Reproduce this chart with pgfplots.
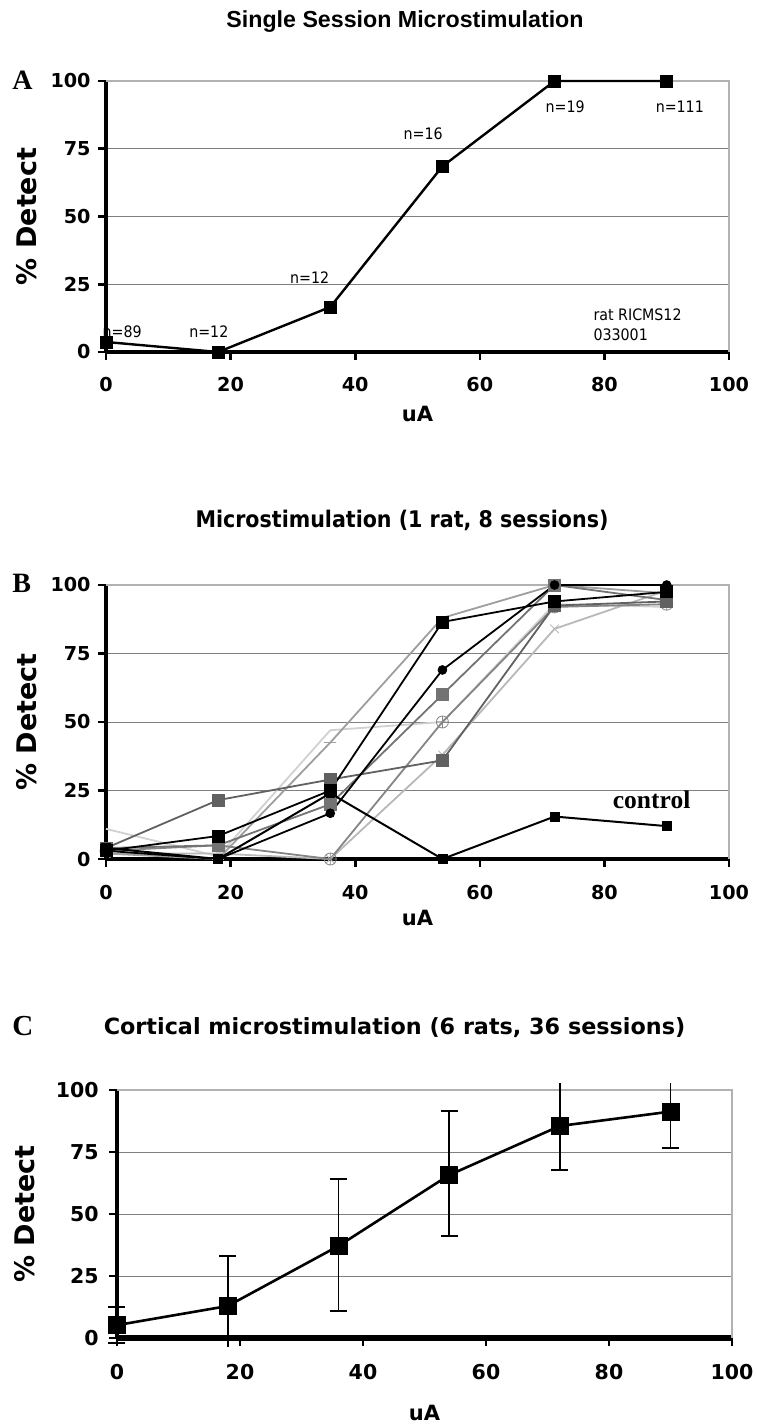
\documentclass[border=0pt]{standalone}
\usepackage{fontspec}
\setmainfont{DejaVu Sans}
\newfontfamily\condfont{DejaVu Sans Condensed}
\newfontfamily\arialfont{Liberation Sans}
\newfontfamily\timesfont{Liberation Serif}
\usepackage{pgfplots}
\pgfplotsset{compat=1.18}

\pgfplotsset{
  panel/.style={
    scale only axis, anchor=south west,
    xmin=0, xmax=100, ymin=0, ymax=100,
    xtick={0,20,...,100}, ytick={0,25,50,75,100},
    axis lines=left, axis line style={-},
    x axis line style={line width=2pt},
    y axis line style={line width=1.6pt},
    tick align=outside, major tick length=4pt,
    every tick/.style={black, line width=1.3pt},
    ymajorgrids, grid style={black!50, line width=0.5pt},
    clip=false,
    /pgf/number format/assume math mode=true,
    ticklabel style={font=\fontsize{9.6}{11}\selectfont\bfseries},
    xticklabel style={anchor=center, inner sep=0pt, yshift=-12.5pt},
    yticklabel style={anchor=east, inner sep=0pt, xshift=-3.5pt},
    xlabel={uA}, ylabel={\% Detect},
    xlabel style={font=\fontsize{10.5}{12}\selectfont\bfseries, anchor=center},
    ylabel style={font=\fontsize{13.5}{15}\selectfont\bfseries, anchor=center},
  },
  sess/.style={line width=0.9pt, mark options={solid, line width=0.4pt}},
}
\tikzset{
  frameline/.style={black!30, line width=0.6pt},
  ntext/.style={font=\condfont\fontsize{7.9}{9}\selectfont, inner sep=0pt},
  letter/.style={anchor=base west, inner sep=0pt, font=\timesfont\bfseries\fontsize{14}{16}\selectfont},
}

\begin{document}
\begin{tikzpicture}
\path[use as bounding box] (0,0) rectangle (378pt,-712pt);

% ---------- A ----------
\node[anchor=base, font=\arialfont\bfseries\fontsize{11.6}{13}\selectfont] at (202.5pt,-13.5pt) {Single Session Microstimulation};
\node[letter] at (6pt,-44.5pt) {A};
\begin{axis}[panel, at={(53pt,-176pt)}, width=311.5pt, height=135.5pt,
  xlabel style={at={(axis description cs:0.5,-0.229)}},
  ylabel style={at={(axis description cs:-0.128,0.5)}}]
\node[ntext] at (axis cs:2.6,7.4) {n=89};
\node[ntext] at (axis cs:16.5,7.4) {n=12};
\node[ntext] at (axis cs:32.7,27.5) {n=12};
\node[ntext] at (axis cs:50.9,80.4) {n=16};
\node[ntext] at (axis cs:73.7,90.4) {n=19};
\node[ntext] at (axis cs:92.1,90.4) {n=111};
\node[ntext, anchor=west, align=left, font=\condfont\fontsize{7.9}{10}\selectfont] at (axis cs:78.2,10.1) {rat RICMS12\\033001};
\draw[frameline] (rel axis cs:0,1) -- (rel axis cs:1,1) -- (rel axis cs:1,0);
\addplot[black, line width=1.2pt, mark=square*, mark size=3pt, mark options={line width=0.4pt}]
  coordinates {(0,3.7) (18,0) (36,16.6) (54,68.5) (72,100) (90,100)};
\end{axis}

% ---------- B ----------
\node[anchor=base, font=\condfont\bfseries\fontsize{11.45}{13}\selectfont] at (201pt,-263.5pt) {Microstimulation (1 rat, 8 sessions)};
\node[letter] at (6pt,-296pt) {B};
\begin{axis}[panel, at={(53pt,-429.5pt)}, width=311.5pt, height=137pt,
  xlabel style={at={(axis description cs:0.5,-0.215)}},
  ylabel style={at={(axis description cs:-0.128,0.5)}}]
\draw[frameline] (rel axis cs:0,1) -- (rel axis cs:1,1) -- (rel axis cs:1,0);
\addplot[sess, black!18] coordinates {(0,11) (18,1) (36,47) (54,50) (72,93) (90,92)};
\addplot[sess, black!28, mark=x, mark size=3pt] coordinates {(0,2) (18,2) (36,0) (54,38) (72,84) (90,98)};
\addplot[sess, black!38, mark=-, mark size=3pt] coordinates {(0,2) (18,0) (36,42.5) (54,88) (72,100) (90,97)};
\addplot[sess, black!48, mark=oplus, mark size=3pt] coordinates {(0,3) (18,5) (36,0) (54,50) (72,92) (90,93)};
\addplot[sess, black!55, mark=square*, mark size=3pt] coordinates {(0,4) (18,5) (36,20) (54,60) (72,100) (90,94.5)};
\addplot[sess, black!62, mark=square*, mark size=3pt] coordinates {(0,4) (18,21.5) (36,29) (54,36) (72,92.5) (90,94)};
\addplot[sess, black, mark=*, mark size=2.2pt] coordinates {(0,3) (18,0) (36,16.7) (54,69) (72,100) (90,100)};
\addplot[sess, black, mark=square*, mark size=3pt] coordinates {(0,3) (18,8.4) (36,25) (54,86.5) (72,94) (90,97.5)};
\addplot[black, line width=1pt, mark=square*, mark size=2.2pt, mark options={line width=0.3pt}]
  coordinates {(0,4) (18,0) (36,24) (54,0) (72,15.5) (90,12)};
\node[anchor=base west, inner sep=0pt, font=\timesfont\bfseries\fontsize{12.75}{14}\selectfont] at (axis cs:81.3,18.6) {control};
\end{axis}

% ---------- C ----------
\node[anchor=base, font=\bfseries\fontsize{11.15}{13}\selectfont] at (197.25pt,-517pt) {Cortical microstimulation (6 rats, 36 sessions)};
\node[letter, font=\timesfont\bfseries\fontsize{14.5}{16}\selectfont] at (6pt,-517.5pt) {C};
\begin{axis}[panel, at={(58.5pt,-669pt)}, width=307.5pt, height=124pt,
  x axis line style={line width=2.8pt},
  y axis line style={line width=2pt},
  ticklabel style={font=\fontsize{10.25}{12}\selectfont\bfseries},
  xticklabel style={yshift=-0.5pt},
  yticklabel style={xshift=-1.5pt},
  xlabel style={at={(axis description cs:0.5,-0.302)}},
  ylabel style={at={(axis description cs:-0.1496,0.5)}}]
\draw[frameline] (rel axis cs:0,1) -- (rel axis cs:1,1) -- (rel axis cs:1,0);
% error bars with caps, upper part
\addplot[black, only marks, mark=none, error bars/.cd, y dir=plus, y explicit,
  error bar style={line width=0.8pt}, error mark options={rotate=90, mark size=4.25pt, line width=0.8pt}]
  coordinates {(0,5.2) +- (0,7.3) (18,12.9) +- (0,20.2) (36,37.1) +- (0,27.1) (54,65.7) +- (0,25.8)};
% error bars with caps, lower part
\addplot[black, only marks, mark=none, error bars/.cd, y dir=minus, y explicit,
  error bar style={line width=0.8pt}, error mark options={rotate=90, mark size=4.25pt, line width=0.8pt}]
  coordinates {(0,5.2) +- (0,7.3) (36,37.1) +- (0,26.2) (54,65.7) +- (0,24.6) (72,85.5) +- (0,17.8) (90,91.3) +- (0,14.6)};
% clipped parts, no caps
\addplot[black, only marks, mark=none, error bars/.cd, y dir=plus, y explicit,
  error bar style={line width=0.8pt}, error mark=none]
  coordinates {(72,85.5) +- (0,17.3) (90,91.3) +- (0,11.5)};
\addplot[black, only marks, mark=none, error bars/.cd, y dir=minus, y explicit,
  error bar style={line width=0.8pt}, error mark=none]
  coordinates {(18,12.9) +- (0,16.5)};
\addplot[black, line width=1.3pt, mark=square*, mark size=4.3pt, mark options={line width=0.3pt}]
  coordinates {(0,5.2) (18,12.9) (36,37.1) (54,65.7) (72,85.5) (90,91.3)};
\end{axis}
\end{tikzpicture}
\end{document}
